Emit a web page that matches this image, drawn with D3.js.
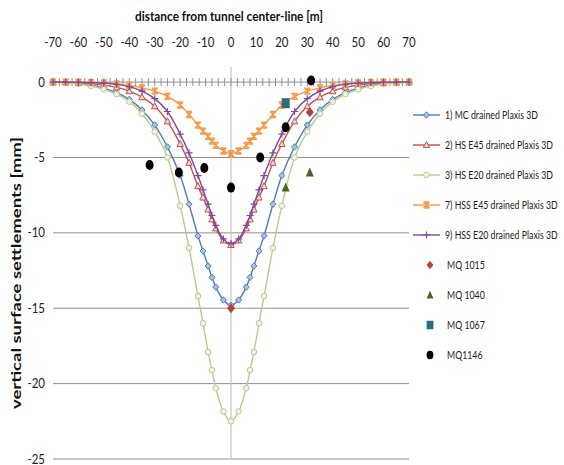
<!DOCTYPE html>
<html>
<head>
<meta charset="utf-8">
<script src="https://cdn.jsdelivr.net/npm/d3@7"></script>
<style>
  html, body { margin: 0; padding: 0; background: #fff; }
  svg { display: block; font-family: Lato, "Open Sans", "Liberation Sans", sans-serif; }
</style>
</head>
<body>
<svg id="chart" width="564" height="465"></svg>
<script>
// Distance from tunnel centre-line of the Plaxis output nodes [m]
const distance = [-70,-65,-60,-55,-50,-45,-40,-35,-30,-25,-20,-16.5,-13,-11,-9,-7.5,-6,-3,0,
                  3,6,7.5,9,11,13,16.5,20,25,30,35,40,45,50,55,60,65,70];

// Computed surface settlements [mm]
const mcDrained = [0,-0.04,-0.1,-0.2,-0.4,-0.7,-1.15,-1.85,-2.85,-4.3,-6.2,-8.1,-10.2,-11.2,-12.2,-12.95,-13.6,-14.45,-14.8,
                   -14.45,-13.6,-12.95,-12.2,-11.2,-10.2,-8.1,-6.2,-4.3,-2.85,-1.85,-1.15,-0.7,-0.4,-0.2,-0.1,-0.04,0];
const hsE45 = [0,-0.02,-0.05,-0.1,-0.2,-0.35,-0.6,-1.0,-1.6,-2.6,-4.1,-5.35,-6.9,-7.65,-8.45,-9.1,-9.7,-10.5,-10.8,
               -10.5,-9.7,-9.1,-8.45,-7.65,-6.9,-5.35,-4.1,-2.6,-1.6,-1.0,-0.6,-0.35,-0.2,-0.1,-0.05,-0.02,0];
const hsE20 = [0,-0.05,-0.13,-0.26,-0.48,-0.8,-1.3,-2.1,-3.3,-5.0,-8.2,-11.0,-14.2,-16.0,-17.9,-19.1,-20.3,-21.85,-22.5,
               -21.85,-20.3,-19.1,-17.9,-16.0,-14.2,-11.0,-8.2,-5.0,-3.3,-2.1,-1.3,-0.8,-0.48,-0.26,-0.13,-0.05,0];
const hssE45 = [0,0,-0.01,-0.03,-0.06,-0.12,-0.22,-0.38,-0.6,-0.95,-1.52,-2.15,-2.85,-3.25,-3.6,-3.92,-4.2,-4.57,-4.75,
                -4.57,-4.2,-3.92,-3.6,-3.25,-2.85,-2.15,-1.52,-0.95,-0.6,-0.38,-0.22,-0.12,-0.06,-0.03,-0.01,0,0];
const hssE20 = [0,0,-0.01,-0.03,-0.07,-0.15,-0.3,-0.6,-1.1,-1.95,-3.45,-4.7,-6.2,-7.15,-8.1,-8.85,-9.5,-10.4,-10.7,
                -10.4,-9.5,-8.85,-8.1,-7.15,-6.2,-4.7,-3.45,-1.95,-1.1,-0.6,-0.3,-0.15,-0.07,-0.03,-0.01,0,0];

// Measured settlements (distance [m], settlement [mm])
const mq1015x = [0, 31];
const mq1015y = [-15.0, -2.0];
const mq1040x = [21.5, 31];
const mq1040y = [-7.0, -6.0];
const mq1067x = [21.5];
const mq1067y = [-1.4];
const mq1146x = [-32, -20.5, -10.5, 0, 11.5, 21.5, 31.5];
const mq1146y = [-5.5, -6.0, -5.7, -7.0, -5.0, -3.0, 0.1];

const xTicks = [-70,-60,-50,-40,-30,-20,-10,0,10,20,30,40,50,60,70];
const yTicks = [0,-5,-10,-15,-20,-25];
const minorStep = 2.5;

const curveSeries = [
  { name: "1) MC drained Plaxis 3D",   values: mcDrained, color: "#4a7ebb", fill: "#a9c1e3", marker: "diamond" },
  { name: "2) HS E45 drained Plaxis 3D",  values: hsE45,  color: "#c0504d", fill: "#f3d7d6", marker: "triangle" },
  { name: "3) HS E20 drained Plaxis 3D",  values: hsE20,  color: "#b8cc90", fill: "#eef3e2", marker: "circle" },
  { name: "7) HSS E45 drained Plaxis 3D", values: hssE45, color: "#f79646", fill: "#f79646", marker: "star" },
  { name: "9) HSS E20 drained Plaxis 3D", values: hssE20, color: "#7d4a9e", fill: "#7d4a9e", marker: "plus" }
];
const pointSeries = [
  { name: "MQ 1015", xs: mq1015x, ys: mq1015y, color: "#b5403e", marker: "bigDiamond" },
  { name: "MQ 1040", xs: mq1040x, ys: mq1040y, color: "#4f6228", marker: "bigTriangle" },
  { name: "MQ 1067", xs: mq1067x, ys: mq1067y, color: "#2b6b7e", marker: "bigSquare" },
  { name: "MQ1146",  xs: mq1146x, ys: mq1146y, color: "#000000", marker: "bigCircle" }
];

const svg = d3.select("#chart");
const x = d3.scaleLinear().domain([-70, 70]).range([53, 409]);
const y = d3.scaleLinear().domain([1, -25]).range([67, 459]);

// Narrow the glyph run of a text element by a factor
function condense(sel, k) {
  sel.each(function () {
    const w = this.getComputedTextLength();
    d3.select(this).attr("textLength", w * k).attr("lengthAdjust", "spacingAndGlyphs");
  });
}

// Horizontal gridlines
svg.append("g").selectAll("line")
  .data(yTicks.filter(d => d !== 0))
  .join("line")
  .attr("x1", x(-70)).attr("x2", x(70))
  .attr("y1", d => y(d)).attr("y2", d => y(d))
  .attr("stroke", "#8f8f8f").attr("stroke-width", 1);

// Vertical axis through the tunnel centre-line
svg.append("line")
  .attr("x1", x(0)).attr("x2", x(0))
  .attr("y1", y(1)).attr("y2", y(-25))
  .attr("stroke", "#c4c4c4").attr("stroke-width", 1.2);

// Horizontal axis at zero settlement with crossing minor ticks
const axisG = svg.append("g");
axisG.append("line")
  .attr("x1", x(-70)).attr("x2", x(70))
  .attr("y1", y(0)).attr("y2", y(0))
  .attr("stroke", "#8f8f8f").attr("stroke-width", 1);
axisG.selectAll("line.tick")
  .data(d3.range(-70, 70 + 0.001, minorStep))
  .join("line").attr("class", "tick")
  .attr("x1", d => x(d)).attr("x2", d => x(d))
  .attr("y1", y(0) - 4).attr("y2", y(0) + 4)
  .attr("stroke", "#8f8f8f").attr("stroke-width", 1);

// Top tick labels
const xLabels = svg.append("g").selectAll("text")
  .data(xTicks)
  .join("text")
  .attr("x", d => x(d)).attr("y", 47)
  .attr("text-anchor", "middle")
  .attr("font-size", 13).attr("fill", "#222")
  .text(d => d);
condense(xLabels, 0.88);

// Left tick labels
const yLabels = svg.append("g").selectAll("text")
  .data(yTicks)
  .join("text")
  .attr("x", 45).attr("y", d => y(d) + 4.5)
  .attr("text-anchor", "end")
  .attr("font-size", 13).attr("fill", "#222")
  .text(d => d);
condense(yLabels, 0.88);

// Axis titles
svg.append("text")
  .attr("x", 229).attr("y", 21)
  .attr("text-anchor", "middle")
  .attr("font-size", 13).attr("font-weight", "bold").attr("fill", "#111")
  .attr("textLength", 188).attr("lengthAdjust", "spacingAndGlyphs")
  .text("distance from tunnel center-line [m]");
svg.append("text")
  .attr("transform", "translate(21,273) rotate(-90)")
  .attr("text-anchor", "middle")
  .attr("font-size", 14).attr("font-weight", "bold").attr("fill", "#111")
  .attr("textLength", 272).attr("lengthAdjust", "spacingAndGlyphs")
  .text("vertical surface settlements [mm]");

// Marker drawing
function drawMarker(g, type, color, fill) {
  switch (type) {
    case "diamond":
      g.append("path").attr("d", "M0,-3.2L3,0L0,3.2L-3,0Z")
        .attr("fill", fill).attr("stroke", color).attr("stroke-width", 1);
      break;
    case "triangle":
      g.append("path").attr("d", "M0,-3.4L3.2,2.6L-3.2,2.6Z")
        .attr("fill", fill).attr("stroke", color).attr("stroke-width", 1);
      break;
    case "circle":
      g.append("circle").attr("r", 2.8)
        .attr("fill", fill).attr("stroke", color).attr("stroke-width", 1);
      break;
    case "star":
      g.append("path").attr("d", "M-3,-3L3,3M-3,3L3,-3M0,-3.5L0,3.5M-3,-3L3,-3M-3,3L3,3")
        .attr("fill", "none").attr("stroke", color).attr("stroke-width", 1.3);
      break;
    case "plus":
      g.append("path").attr("d", "M-3.5,0L3.5,0M0,-3.5L0,3.5")
        .attr("fill", "none").attr("stroke", color).attr("stroke-width", 1.2);
      break;
    case "bigDiamond":
      g.append("path").attr("d", "M0,-5L4,0L0,5L-4,0Z").attr("fill", color);
      break;
    case "bigTriangle":
      g.append("path").attr("d", "M0,-5L4,4L-4,4Z").attr("fill", color);
      break;
    case "bigSquare":
      g.append("rect").attr("x", -4).attr("y", -5).attr("width", 8).attr("height", 10).attr("fill", color);
      break;
    case "bigCircle":
      g.append("ellipse").attr("rx", 4).attr("ry", 5).attr("fill", color);
      break;
  }
}

// Computed settlement troughs
const line = d3.line()
  .x((d, i) => x(distance[i]))
  .y(d => y(d))
  .curve(d3.curveCatmullRom.alpha(0.5));

curveSeries.forEach(s => {
  const g = svg.append("g");
  g.append("path")
    .attr("d", line(s.values))
    .attr("fill", "none").attr("stroke", s.color).attr("stroke-width", 1.4);
  s.values.forEach((v, i) => {
    const m = g.append("g").attr("transform", `translate(${x(distance[i])},${y(v)})`);
    drawMarker(m, s.marker, s.color, s.fill);
  });
});

// Measurements
pointSeries.forEach(s => {
  const g = svg.append("g");
  s.xs.forEach((d, i) => {
    const m = g.append("g").attr("transform", `translate(${x(d)},${y(s.ys[i])})`);
    drawMarker(m, s.marker, s.color, s.color);
  });
});

// Legend: labels set in a small size and stretched upright to resemble a condensed face
const legend = svg.append("g");
const rowY = i => 115 + 30 * i;
const legendTexts = [];
function legendLabel(g, tx, label) {
  const t = g.append("g").attr("transform", `translate(${tx},4) scale(1,1.2)`)
    .append("text").attr("x", 0).attr("y", 0)
    .attr("font-size", 9.3).attr("fill", "#222").text(label);
  legendTexts.push(t.node());
}
curveSeries.forEach((s, i) => {
  const g = legend.append("g").attr("transform", `translate(0,${rowY(i)})`);
  g.append("line").attr("x1", 413).attr("x2", 440).attr("y1", 0).attr("y2", 0)
    .attr("stroke", s.color).attr("stroke-width", 1.4);
  drawMarker(g.append("g").attr("transform", "translate(426.5,0)"), s.marker, s.color, s.fill);
  legendLabel(g, 445, s.name);
});
pointSeries.forEach((s, j) => {
  const i = j + curveSeries.length;
  const g = legend.append("g").attr("transform", `translate(0,${rowY(i)})`);
  const m = g.append("g").attr("transform", "translate(430,0) scale(0.85)");
  drawMarker(m, s.marker, s.color, s.color);
  legendLabel(g, 447, s.name);
});
const firstWidth = legendTexts[0].getComputedTextLength();
condense(d3.selectAll(legendTexts), Math.min(1, 93 / firstWidth));
</script>
</body>
</html>
